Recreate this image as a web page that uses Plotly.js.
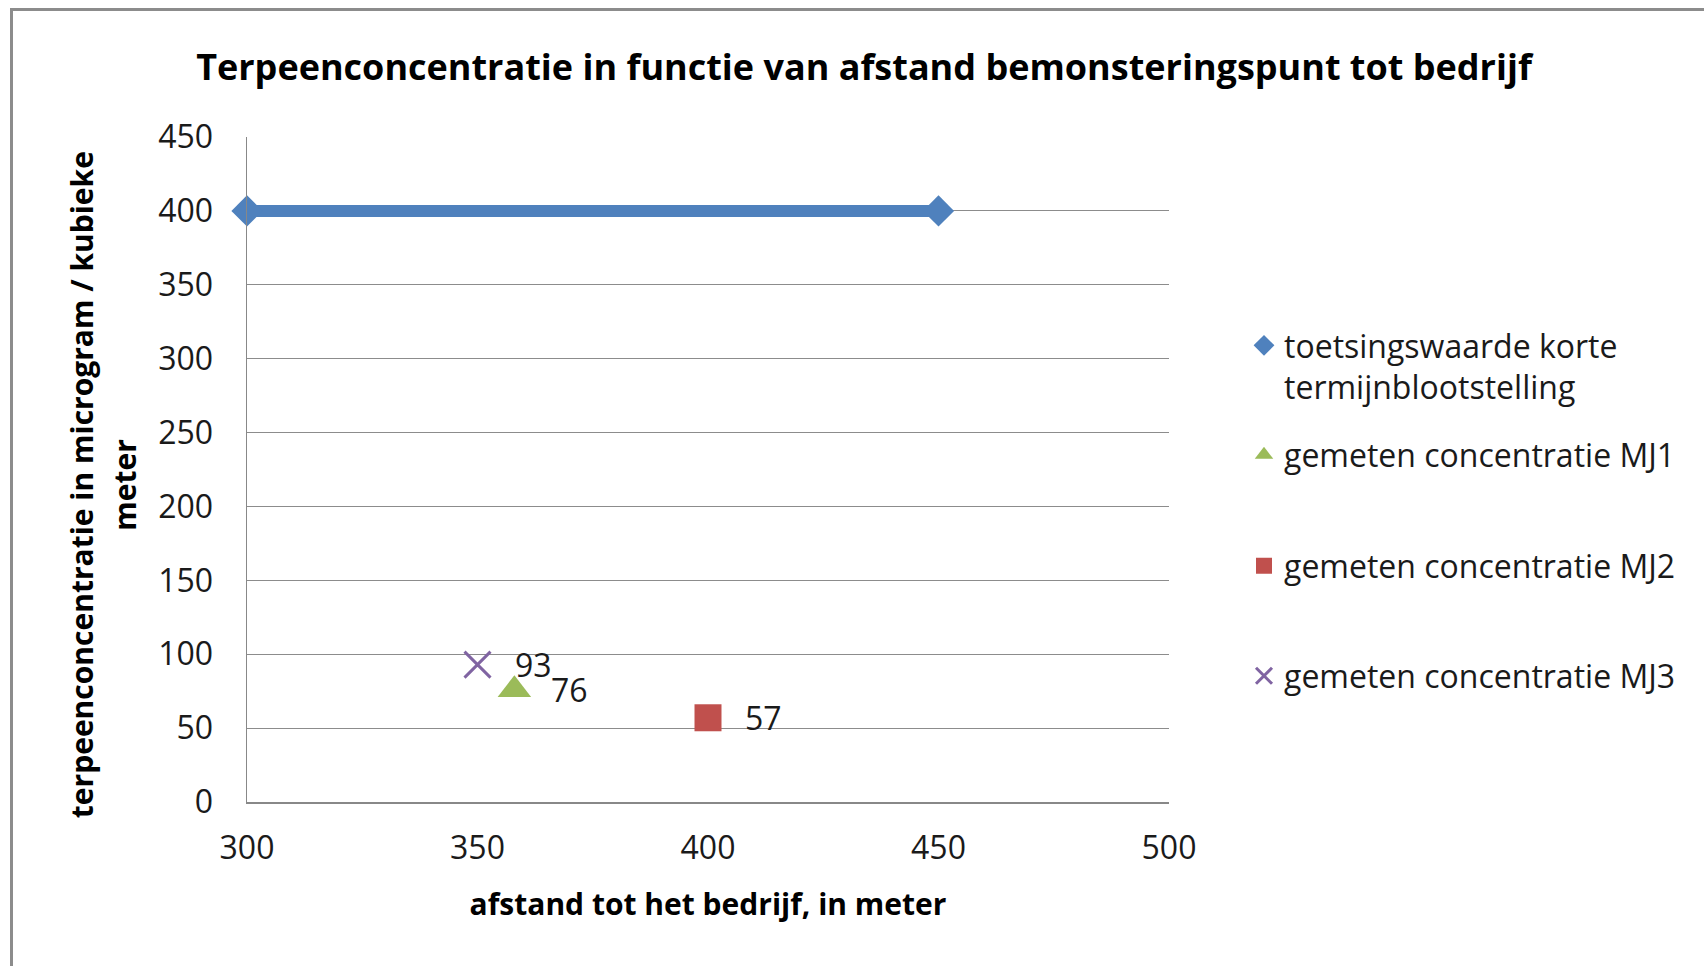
<!DOCTYPE html>
<html>
<head>
<meta charset="utf-8">
<script src="https://cdn.plot.ly/plotly-3.0.1.min.js"></script>
<style>
  html, body { margin:0; padding:0; background:#fff; }
  #wrap { position:relative; width:1704px; height:966px; overflow:hidden; }
  #chart { width:1704px; height:966px; }
  #frame { position:absolute; left:10px; top:8px; width:1800px; height:1100px;
           border-left:3px solid #8c8c8c; border-top:3px solid #8c8c8c; pointer-events:none; }
</style>
</head>
<body>
<div id="wrap">
  <div id="chart"></div>
  <div id="frame"></div>
</div>
<script>
// ---- data ----
const seriesNames = [
  "toetsingswaarde korte<br>termijnblootstelling",
  "gemeten concentratie MJ1",
  "gemeten concentratie MJ2",
  "gemeten concentratie MJ3"
];
const limitX = [300, 450];
const limitY = [400, 400];
const mj1X = [358];
const mj1Y = [76];
const mj2X = [400];
const mj2Y = [57];
const mj3X = [350];
const mj3Y = [93];
const xTicks = [300, 350, 400, 450, 500];
const yTicks = [0, 50, 100, 150, 200, 250, 300, 350, 400, 450];
const yTitleLines = ["terpeenconcentratie in microgram / kubieke", "meter"];

const colors = ["#4F81BD", "#9BBB59", "#C0504D", "#8064A2"];
const font = "Open Sans, Noto Sans, sans-serif";

const traces = [
  { x: limitX, y: limitY, name: seriesNames[0], mode: "lines", showlegend: false,
    line: { color: colors[0], width: 12 }, cliponaxis: false },
  { x: limitX, y: limitY, name: seriesNames[0], mode: "markers", legend: "legend",
    marker: { symbol: "diamond", size: 24, color: colors[0] }, cliponaxis: false },
  { x: mj1X, y: mj1Y, name: seriesNames[1], mode: "markers", legend: "legend2",
    marker: { symbol: "triangle-up", size: 29, color: colors[1] }, cliponaxis: false },
  { x: mj2X, y: mj2Y, name: seriesNames[2], mode: "markers", legend: "legend3",
    marker: { symbol: "square", size: 27, color: colors[2] }, cliponaxis: false },
  { x: mj3X, y: mj3Y, name: seriesNames[3], mode: "markers", legend: "legend4",
    marker: { symbol: "x-thin-open", size: 26, color: colors[3], line: { color: colors[3], width: 3 } },
    cliponaxis: false }
];

const H = 966, W = 1704;

// data labels
const labelPts = [[mj3X[0], mj3Y[0]], [mj1X[0], mj1Y[0]], [mj2X[0], mj2Y[0]]];
const annotations = labelPts.map(p => ({
  x: p[0], y: p[1], xref: "x", yref: "y", text: String(p[1]),
  showarrow: false, xanchor: "left", yanchor: "middle", xshift: 35,
  font: { family: font, size: 32, color: "#1a1a1a" }
}));
// y-axis title (two lines, Excel-like spacing)
const yTitleX = [81.5, 125];
yTitleLines.forEach((t, i) => annotations.push({
  text: "<b>" + t + "</b>", xref: "paper", yref: "paper",
  x: (yTitleX[i] - 247) / (W - 247 - 535), y: (966 - 164 - 484.7) / (966 - 164 - 137),
  xanchor: "center", yanchor: "middle", textangle: -90, showarrow: false,
  font: { family: font, size: 30, color: "#000" }
}));

function legendAt(cy, valign) {
  return {
    xref: "container", yref: "container", x: 1244 / W, y: 1 - cy / H,
    xanchor: "left", yanchor: valign === "top" ? "top" : "middle", valign: valign || "middle",
    bgcolor: "rgba(0,0,0,0)", borderwidth: 0,
    font: { family: font, size: 32, color: "#1a1a1a" }
  };
}

const layout = {
  width: W, height: H,
  paper_bgcolor: "#fff", plot_bgcolor: "#fff",
  margin: { l: 247, r: 535, t: 137, b: 164 },
  title: {
    text: "<b>Terpeenconcentratie in functie van afstand bemonsteringspunt tot bedrijf</b>",
    xref: "container", yref: "container", x: 864 / W, y: 1 - 67 / H,
    xanchor: "center", yanchor: "middle",
    font: { family: font, size: 36, color: "#000" }
  },
  xaxis: {
    range: [300, 500], tickvals: xTicks, ticktext: xTicks.map(String),
    showgrid: false, zeroline: false, showline: true, linecolor: "#888", linewidth: 1.5,
    ticks: "", ticklabelstandoff: 17,
    tickfont: { family: font, size: 32, color: "#1a1a1a" },
    title: { text: "<b>afstand tot het bedrijf, in meter</b>", standoff: 27,
             font: { family: font, size: 30, color: "#000" } },
    fixedrange: true
  },
  yaxis: {
    range: [0, 450], tickvals: yTicks, ticktext: yTicks.map(String),
    showgrid: true, gridcolor: "#8c8c8c", gridwidth: 1.2,
    zeroline: false, showline: true, linecolor: "#888", linewidth: 1.5,
    ticks: "", ticklabelstandoff: 26,
    tickfont: { family: font, size: 32, color: "#1a1a1a" },
    fixedrange: true
  },
  showlegend: true,
  legend: legendAt(318, "top"),
  legend2: legendAt(455),
  legend3: legendAt(566),
  legend4: legendAt(676),
  annotations: annotations
};

Plotly.newPlot("chart", traces, layout, { displayModeBar: false, staticPlot: true });
</script>
</body>
</html>
